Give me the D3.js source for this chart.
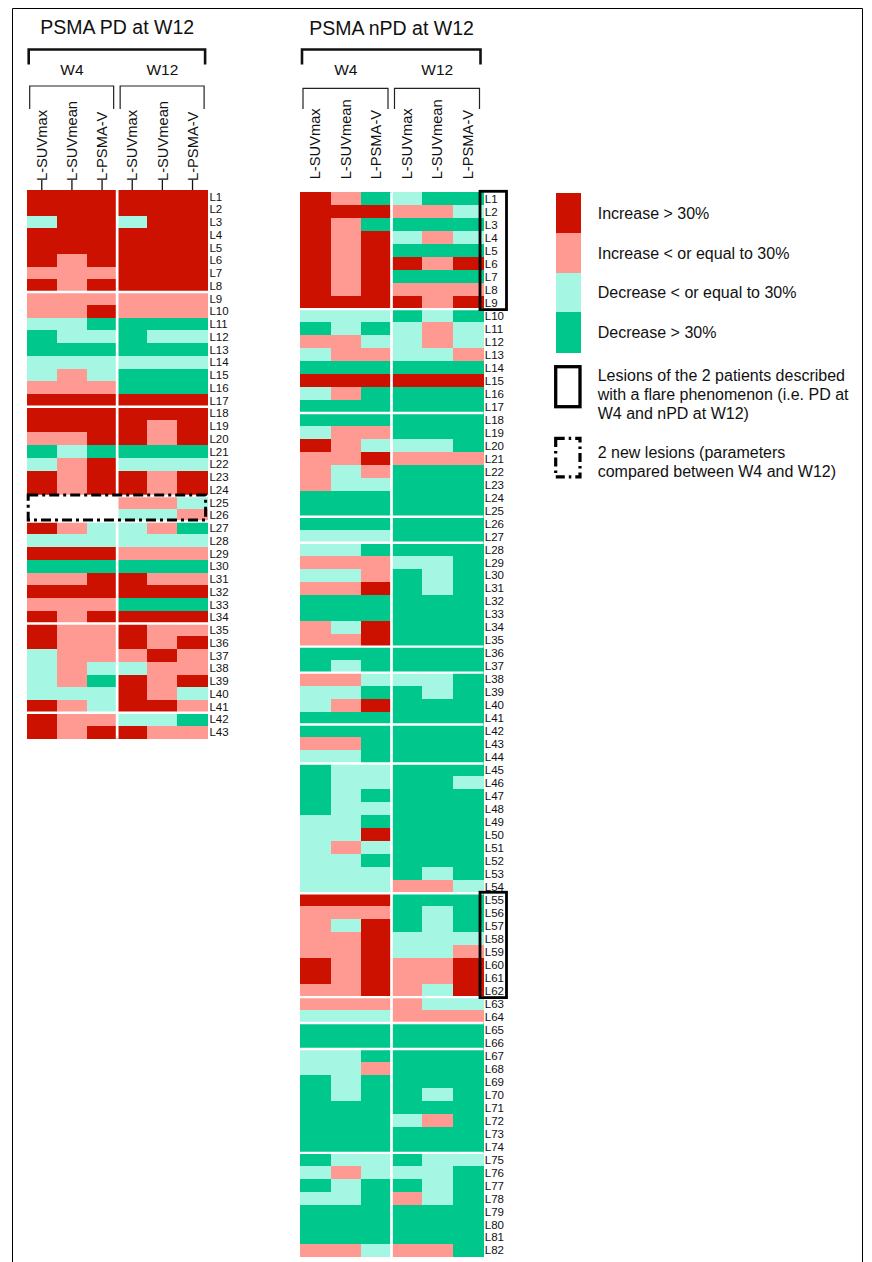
<!DOCTYPE html>
<html><head><meta charset="utf-8">
<script src="https://cdn.jsdelivr.net/npm/d3@7"></script>
<style>
html,body{margin:0;padding:0;background:#fff;}
svg{display:block;font-family:"Liberation Sans",Arial,Helvetica,sans-serif;}
</style></head><body>
<svg id="chart" width="872" height="1262"></svg>
<script>
// ---- categories ----
const metrics = ["L-SUVmax", "L-SUVmean", "L-PSMA-V"];
const timepoints = ["W4", "W12"];
const legendCodes = ["R", "P", "C", "G"];
const legendLabels = ["Increase > 30%", "Increase < or equal to 30%", "Decrease < or equal to 30%", "Decrease > 30%"];
const legendColors = ["#CC1100", "#FF9A92", "#A6F6E4", "#00C78C"];
const flareLegendLines = ["Lesions of the 2 patients described", "with a flare phenomenon (i.e. PD at", "W4 and nPD at W12)"];
const newLegendLines = ["2 new lesions (parameters", "compared between W4 and W12)"];

// ---- PSMA PD at W12 (one string per lesion, one letter per metric; "-" = no value) ----
const pdW4 = ["RRR","RRR","CRR","RRR","RRR","RPR","PPP","RPR","PPP","PPR",
  "CCG","GCC","GGG","CCC","CPC","PPP","RRR","RRR","RRR","PPR",
  "GCG","CPR","RPR","RPR","---","---","RPC","CCC","RRR","GGG",
  "PPR","RRR","PPP","RPR","RPP","RPP","CPP","CPC","CPG","CCC",
  "RPC","RPP","RPR"];
const pdW12 = ["RRR","RRR","CRR","RRR","RRR","RRR","RRR","RRR","PPP","PPP",
  "GGG","GCC","GGG","CCC","GGG","GGG","RRR","RRR","RPR","RPR",
  "GGG","CCC","RPR","RPR","PPC","CCP","CPG","CCC","PPP","GGG",
  "RPP","RRR","GGG","RRR","RPP","RPR","PRP","CPP","RPR","RPC",
  "RRP","CCG","RPP"];
const pdGroupEnds = ["L8","L17","L24","L26","L34","L41"];
const pdNewLesions = [["L25","L26"]];

// ---- PSMA nPD at W12 ----
const npdW4 = ["RPG","RRR","RPG","RPR","RPR","RPR","RPR","RPR","RRR","CCC",
  "GCG","PPC","CPP","GGG","RRR","CPG","GGG","GGG","CPP","RPC",
  "PPR","PCP","PCC","GGG","GGG","GGG","CCC","CCG","PPP","CCP",
  "PPR","GGG","GGG","PCR","PPR","GGG","GCG","PPC","CCG","CPR",
  "GGG","GGG","PPG","CCG","GCC","GCC","GCG","GCC","CCG","CCR",
  "CPC","CCG","CCC","CCC","RRR","PPP","PCR","PPR","PPR","RPR",
  "RPR","PPR","PPP","CCC","GGG","GGG","CCG","CCP","GCG","GCG",
  "GGG","GGG","GGG","GGG","GCC","CPC","GCG","CCG","GGG","GGG",
  "GGG","PPC"];
const npdW12 = ["CGG","PPC","GGG","CPC","GGG","RPR","GGG","PPP","RPR","GCG",
  "CPC","CPC","CCP","GGG","RRR","GGG","GGG","GGG","GGG","CCG",
  "PPP","GGG","GGG","GGG","GGG","GGG","GGG","GGG","CCG","GCG",
  "GCG","GGG","GGG","GGG","GGG","GGG","GGG","CCG","GCG","GGG",
  "GGG","GGG","GGG","GGG","GGG","GGC","GGG","GGG","GGG","GGG",
  "GGG","GGG","GCG","PPC","GGG","GCG","GCG","CCC","CCP","PPR",
  "PPR","PCR","PCC","PPP","GGG","GGG","GGG","GGG","GGG","GCG",
  "GGG","CPG","GGG","GGG","GCC","CCG","GCG","PCG","GGG","GGG",
  "GGG","PPG"];
const npdGroupEnds = ["L9","L17","L25","L27","L35","L37","L41","L44","L54","L62","L64","L66","L74"];
const npdFlare = [["L1","L9"],["L55","L62"]];

// ---- drawing ----
const svg = d3.select("#chart");
const color = d3.scaleOrdinal(legendCodes, legendColors);

// outer frame
svg.append("path").attr("d", "M12.5,1262 V8.5 H862.5 V1262")
  .attr("fill", "none").attr("stroke", "#000").attr("stroke-width", 1);

function drawPanel(cfg) {
  const g = svg.append("g");
  const lesions = d3.range(1, cfg.w4.length + 1).map(i => "L" + i);
  const cols = timepoints.flatMap(t => metrics.map(m => t + "|" + m));
  const x = d3.scaleBand().domain(cols).range([cfg.x0, cfg.x1]);
  const y = d3.scaleBand().domain(lesions).range([cfg.y0, cfg.y1]);
  const cells = [];
  lesions.forEach((l, i) => {
    timepoints.forEach(t => {
      const s = (t === "W4" ? cfg.w4 : cfg.w12)[i];
      metrics.forEach((m, j) => {
        if (s[j] !== "-") cells.push({ l, col: t + "|" + m, c: s[j] });
      });
    });
  });
  g.selectAll("rect.cell").data(cells).join("rect").attr("class", "cell")
    .attr("x", d => x(d.col)).attr("y", d => y(d.l))
    .attr("width", x.bandwidth() + 0.5).attr("height", y.bandwidth() + 0.5)
    .attr("shape-rendering", "crispEdges")
    .attr("fill", d => color(d.c));

  // separators
  g.selectAll("line.hsep").data(cfg.groupEnds).join("line").attr("class", "hsep")
    .attr("x1", cfg.x0).attr("x2", cfg.x1 + 0.5)
    .attr("y1", d => y(d) + y.bandwidth()).attr("y2", d => y(d) + y.bandwidth())
    .attr("stroke", "#fff").attr("stroke-width", 2.4);
  const vx = x(timepoints[1] + "|" + metrics[0]);
  g.append("line").attr("x1", vx).attr("x2", vx).attr("y1", cfg.y0).attr("y2", cfg.y1 + 0.5)
    .attr("stroke", "#fff").attr("stroke-width", 2.7);

  // row labels
  const ya = g.append("g").attr("transform", `translate(${cfg.x1},0)`)
    .call(d3.axisRight(y).tickSize(0).tickPadding(1.8));
  ya.select(".domain").remove();
  ya.attr("font-family", null).attr("font-size", null);
  ya.selectAll("text").attr("font-size", 11.5).attr("fill", "#111").attr("dy", "0.37em");

  // column labels
  const xa = g.append("g").attr("transform", `translate(0,${cfg.y0})`)
    .call(d3.axisTop(x).tickSize(cfg.tick).tickSizeOuter(0).tickFormat(d => d.split("|")[1]));
  xa.select(".domain").remove();
  xa.attr("font-family", null).attr("font-size", null);
  xa.selectAll("line").attr("stroke", "#111").attr("stroke-width", 1.3);
  xa.selectAll("text").attr("font-size", 14.7).attr("fill", "#111")
    .attr("x", 0).attr("y", 0).attr("dy", "0.35em").attr("text-anchor", "start")
    .attr("transform", `translate(0,${-cfg.labelOff}) rotate(-90)`);

  // group brackets & labels
  timepoints.forEach(t => {
    const gx0 = x(t + "|" + metrics[0]);
    const gx1 = x(t + "|" + metrics[metrics.length - 1]) + x.bandwidth();
    g.append("path")
      .attr("d", `M${gx0 + 3},109 V${cfg.subY} H${gx1 - 3.5} V109`)
      .attr("fill", "none").attr("stroke", "#222").attr("stroke-width", 1.2);
    g.append("text").attr("x", (gx0 + gx1) / 2).attr("y", 75)
      .attr("text-anchor", "middle").attr("font-size", 15.5).attr("fill", "#111").text(t);
  });
  g.append("path").attr("d", `M${cfg.x0 + 2},64.5 V49.5 H${cfg.x1 - 2.5} V64.5`)
    .attr("fill", "none").attr("stroke", "#111").attr("stroke-width", 2.6);
  g.append("text").attr("x", (cfg.x0 + cfg.x1) / 2).attr("y", cfg.titleY)
    .attr("text-anchor", "middle").attr("font-size", 19.5).attr("fill", "#111").text(cfg.title);

  // flare boxes
  g.selectAll("rect.flare").data(cfg.flare || []).join("rect").attr("class", "flare")
    .attr("x", cfg.x1 - 3).attr("y", d => y(d[0]) - 1)
    .attr("width", 26.5).attr("height", d => y(d[1]) + y.bandwidth() - y(d[0]) + 1.5)
    .attr("fill", "none").attr("stroke", "#000").attr("stroke-width", 2.8);
  // new lesions boxes
  g.selectAll("rect.newl").data(cfg.newLesions || []).join("rect").attr("class", "newl")
    .attr("x", cfg.x0 + 1.5).attr("y", d => y(d[0]) - 1)
    .attr("width", cfg.x1 - cfg.x0 - 3.5).attr("height", d => y(d[1]) + y.bandwidth() - y(d[0]) - 0.5)
    .attr("fill", "none").attr("stroke", "#000").attr("stroke-width", 3)
    .attr("stroke-dasharray", "10,4,3,4");
}

drawPanel({ w4: pdW4, w12: pdW12, groupEnds: pdGroupEnds, newLesions: pdNewLesions,
  x0: 26.7, x1: 207.6, y0: 190, y1: 738.3, tick: 10, labelOff: 9, subY: 86,
  title: "PSMA PD at W12", titleY: 34 });
drawPanel({ w4: npdW4, w12: npdW12, groupEnds: npdGroupEnds, flare: npdFlare,
  x0: 300, x1: 483, y0: 192.3, y1: 1256.7, tick: 0, labelOff: 13, subY: 88.3,
  title: "PSMA nPD at W12", titleY: 35 });

// legend
const lg = svg.append("g");
const ly = d3.scaleBand().domain(legendCodes).range([193, 352]);
lg.selectAll("rect.sw").data(legendCodes).join("rect").attr("class", "sw")
  .attr("x", 556).attr("y", d => ly(d)).attr("width", 25).attr("height", ly.bandwidth() + 0.5)
  .attr("shape-rendering", "crispEdges")
  .attr("fill", d => color(d));
lg.selectAll("text.lab").data(legendCodes).join("text").attr("class", "lab")
  .attr("x", 597.7).attr("y", d => ly(d) + ly.bandwidth() / 2 + 6)
  .attr("font-size", 16).attr("fill", "#111")
  .text((d, i) => legendLabels[i]);
lg.append("rect").attr("x", 555.7).attr("y", 366.7).attr("width", 24.3).attr("height", 40)
  .attr("fill", "none").attr("stroke", "#000").attr("stroke-width", 3.3);
lg.selectAll("text.fl").data(flareLegendLines).join("text").attr("class", "fl")
  .attr("x", 597.7).attr("y", (d, i) => 381 + i * 18.8)
  .attr("font-size", 16).attr("fill", "#111").text(d => d);
lg.append("rect").attr("x", 555.7).attr("y", 438.3).attr("width", 24.3).attr("height", 38.5)
  .attr("fill", "none").attr("stroke", "#000").attr("stroke-width", 3.2)
  .attr("stroke-dasharray", "9,4,2.5,4");
lg.selectAll("text.nl").data(newLegendLines).join("text").attr("class", "nl")
  .attr("x", 597.7).attr("y", (d, i) => 457.7 + i * 19.5)
  .attr("font-size", 16).attr("fill", "#111").text(d => d);
</script>
</body></html>
